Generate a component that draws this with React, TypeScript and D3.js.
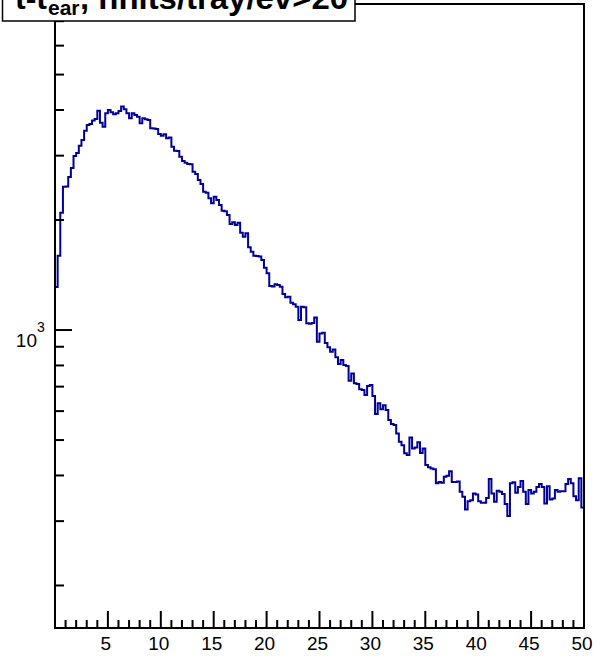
import React from 'react';
import * as d3 from 'd3';

// Histogram range and bin contents (200 bins, 0.25 wide)
const xMin = 0;
const xMax = 50;
const counts: number[] = [
  1311, 1597, 2095, 2468, 2470, 2623, 2776, 2994, 3052, 3195,
  3312, 3512, 3641, 3664, 3741, 3781, 3984, 3694, 3602, 3919,
  4002, 3944, 3895, 3919, 3977, 4086, 4019, 3919, 3798, 3919,
  3878, 3836, 3680, 3798, 3774, 3757, 3566, 3560, 3550, 3440,
  3403, 3433, 3348, 3361, 3175, 3096, 3090, 2981, 2902, 2871,
  2847, 2840, 2712, 2673, 2574, 2510, 2391, 2376, 2294, 2223,
  2317, 2269, 2199, 2121, 2115, 2065, 1951, 1972, 1938, 1967,
  1847, 1801, 1840, 1684, 1638, 1597, 1594, 1590, 1555, 1481,
  1430, 1320, 1316, 1334, 1328, 1314, 1255, 1229, 1234, 1188,
  1176, 1158, 1065, 1158, 1155, 1043, 1040, 1045, 1083, 929,
  979, 983, 921, 897, 872, 885, 842, 807, 828, 802,
  797, 726, 761, 715, 712, 689, 685, 664, 703, 707,
  660, 589, 630, 607, 623, 604, 567, 553, 550, 521,
  495, 484, 460, 455, 508, 474, 477, 493, 461, 474,
  427, 421, 418, 416, 381, 384, 382, 397, 399, 411,
  384, 384, 385, 361, 350, 323, 340, 342, 357, 355,
  340, 337, 337, 347, 391, 357, 339, 363, 361, 356,
  334, 310, 381, 383, 359, 372, 386, 361, 334, 365,
  357, 361, 372, 379, 372, 335, 374, 344, 346, 365,
  361, 362, 362, 379, 391, 381, 351, 342, 393, 327,
];

const yDomain: [number, number] = [153, 7800];
const xMajorTicks = [5, 10, 15, 20, 25, 30, 35, 40, 45, 50];
const xMinorTicks = [
  1, 2, 3, 4, 6, 7, 8, 9, 11, 12, 13, 14, 16, 17, 18, 19, 21, 22, 23, 24,
  26, 27, 28, 29, 31, 32, 33, 34, 36, 37, 38, 39, 41, 42, 43, 44, 46, 47, 48, 49,
];
const yMajorTicks = [1000];
const yMinorTicks = [200, 300, 400, 500, 600, 700, 800, 900, 2000, 3000, 4000, 5000, 6000, 7000];
const titleMain = 't-t';
const titleSub = 'ear';
const titleRest = ', nhits/tray/ev>20';

export default function App() {
  const W = 603;
  const H = 656;
  const left = 55;
  const right = 584;
  const top = 4;
  const bottom = 628;

  const x = d3.scaleLinear().domain([xMin, xMax]).range([left, right]);
  const y = d3.scaleLog().domain(yDomain).range([bottom, top]);

  const binW = (xMax - xMin) / counts.length;
  const pts: [number, number][] = counts.map((c, i) => [xMin + i * binW, c]);
  pts.push([xMax, counts[counts.length - 1]]);
  const line = d3
    .line<[number, number]>()
    .x((d) => x(d[0]))
    .y((d) => y(d[1]))
    .curve(d3.curveStepAfter);

  const font = 'Liberation Sans, Arial, Helvetica, sans-serif';

  return (
    <svg
      width={W}
      height={H}
      viewBox={`0 0 ${W} ${H}`}
      style={{ position: 'absolute', left: 0, top: 0, background: '#fff' }}
    >
      <rect x={0} y={0} width={W} height={H} fill="#fff" />
      <defs>
        <clipPath id="plotclip">
          <rect x={left} y={top} width={right - left} height={bottom - top} />
        </clipPath>
      </defs>

      {/* histogram */}
      <path
        d={line(pts) || ''}
        fill="none"
        stroke="#000099"
        strokeWidth={2}
        clipPath="url(#plotclip)"
      />

      {/* frame */}
      <rect
        x={left}
        y={top}
        width={right - left}
        height={bottom - top}
        fill="none"
        stroke="#000"
        strokeWidth={2}
      />

      {/* x ticks */}
      {xMajorTicks.map((t) => (
        <line key={'xM' + t} x1={x(t)} x2={x(t)} y1={bottom} y2={bottom - 17} stroke="#000" strokeWidth={2} />
      ))}
      {xMinorTicks.map((t) => (
        <line key={'xm' + t} x1={x(t)} x2={x(t)} y1={bottom} y2={bottom - 8} stroke="#000" strokeWidth={2} />
      ))}
      {xMajorTicks.map((t) => (
        <text
          key={'xl' + t}
          x={x(t) - 2}
          y={650}
          textAnchor="middle"
          fontFamily={font}
          fontSize={19}
          fill="#000"
        >
          {t}
        </text>
      ))}

      {/* y ticks */}
      {yMajorTicks.map((t) => (
        <line key={'yM' + t} x1={left} x2={left + 17} y1={y(t)} y2={y(t)} stroke="#000" strokeWidth={2} />
      ))}
      {yMinorTicks.map((t) => (
        <line key={'ym' + t} x1={left} x2={left + 9} y1={y(t)} y2={y(t)} stroke="#000" strokeWidth={2} />
      ))}
      {yMajorTicks.map((t) => (
        <g key={'yl' + t}>
          <text x={37} y={y(t) + 17} textAnchor="end" fontFamily={font} fontSize={19} fill="#000">
            10
          </text>
          <text x={37} y={y(t) + 2} textAnchor="start" fontFamily={font} fontSize={14} fill="#000">
            {Math.round(Math.log10(t))}
          </text>
        </g>
      ))}

      {/* title box */}
      <rect x={2.5} y={-5} width={352.5} height={26} fill="#fff" stroke="#000" strokeWidth={1.5} />
      <text fontFamily={font} fontWeight="bold" fill="#000">
        <tspan x={15} y={9} fontSize={32}>
          {titleMain}
        </tspan>
        <tspan x={48} y={15} fontSize={21}>
          {titleSub}
        </tspan>
        <tspan x={80} y={9} fontSize={32} textLength={268} lengthAdjust="spacingAndGlyphs">
          {titleRest}
        </tspan>
      </text>
    </svg>
  );
}
